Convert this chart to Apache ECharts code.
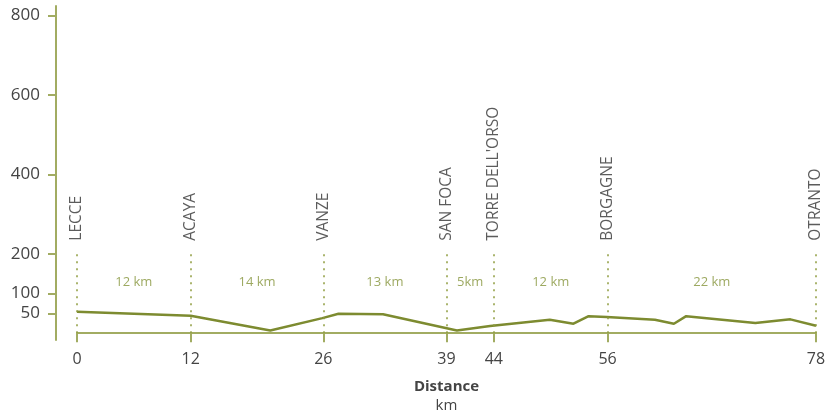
<!DOCTYPE html>
<html>
<head>
<meta charset="utf-8">
<style>html,body{margin:0;padding:0;background:#fff;}#c{width:831px;height:415px;}</style>
<script src="https://cdn.jsdelivr.net/npm/echarts@6/dist/echarts.min.js"></script>
</head>
<body>
<div id="c"></div>
<script>
// Elevation profile (km, metres)
var profileKm   = [0, 12, 20.4, 25.9, 27.6, 32.3, 40.1, 43.6, 49.9, 52.4, 54.0, 55.9, 61.0, 63.0, 64.3, 71.6, 75.3, 78];
var profileElev = [54, 44, 7, 38, 49, 48, 7, 18, 34, 24, 43, 41, 34, 24, 43, 26, 35, 19];
// Stations
var stationNames = ['LECCE', 'ACAYA', 'VANZE', 'SAN FOCA', "TORRE DELL'ORSO", 'BORGAGNE', 'OTRANTO'];
var stationKm    = [0, 12, 26, 39, 44, 56, 78];
// Segment distance labels
var segmentLabels = ['12 km', '14 km', '13 km', '5km', '12 km', '22 km'];
// Axis ticks
var yTicks = [50, 100, 200, 400, 600, 800];
var xTicks = [0, 12, 26, 39, 44, 56, 78];

var FONT = '"Open Sans", sans-serif';
var GREEN = '#7d8b30';
var AXIS = '#a2ac62';

var profileData = profileKm.map(function (k, i) { return [k, profileElev[i]]; });
var markerTop = 205;
var labelBase = 233;
var segLabelY = 129;

var stationLabelData = stationKm.map(function (k, i) { return { name: stationNames[i], value: [k, labelBase] }; });
var segData = segmentLabels.map(function (t, i) {
  return { name: t, value: [(stationKm[i] + stationKm[i + 1]) / 2, segLabelY] };
});
var markLines = stationKm.map(function (k) { return [{ coord: [k, 0] }, { coord: [k, markerTop] }]; });

var chart = echarts.init(document.getElementById('c'), null, { renderer: 'canvas' });
chart.setOption({
  animation: false,
  backgroundColor: '#fff',
  grid: { left: 77, right: 15, top: 6, bottom: 75, containLabel: false, outerBoundsMode: 'none' },
  xAxis: {
    type: 'value', min: 0, max: 78,
    axisLine: { show: true, onZero: true, lineStyle: { color: AXIS, width: 2 } },
    axisTick: { show: true, customValues: xTicks, length: 9, lineStyle: { color: AXIS, width: 2 } },
    axisLabel: { customValues: xTicks, margin: 11, color: '#444', fontFamily: FONT, fontSize: 16 },
    splitLine: { show: false },
    name: '{a|Distance}\n{b|km}',
    nameLocation: 'middle',
    nameGap: 37,
    nameTextStyle: {
      rich: {
        a: { fontFamily: FONT, fontWeight: 'bold', fontSize: 15, color: '#444', lineHeight: 19, align: 'center' },
        b: { fontFamily: FONT, fontSize: 15, color: '#444', lineHeight: 19, align: 'center' }
      }
    }
  },
  yAxis: {
    type: 'value', min: -17, max: 824, offset: 21, position: 'left',
    axisLine: { show: true, onZero: false, lineStyle: { color: AXIS, width: 2 } },
    axisTick: { show: true, customValues: yTicks, length: 8, lineStyle: { color: AXIS, width: 2 } },
    axisLabel: { customValues: yTicks, margin: 16, color: '#444', fontFamily: FONT, fontSize: 17 },
    splitLine: { show: false }
  },
  series: [
    {
      type: 'line', data: profileData, symbol: 'none', silent: true,
      lineStyle: { color: GREEN, width: 2.5 },
      markLine: {
        silent: true, symbol: ['none', 'none'], label: { show: false },
        lineStyle: { color: '#8e9c3e', width: 1.5, type: [2, 5] },
        data: markLines
      }
    },
    {
      type: 'scatter', data: stationLabelData, symbolSize: 0, silent: true,
      label: {
        show: true, formatter: '{b}', position: 'inside', rotate: 90,
        align: 'left', verticalAlign: 'middle',
        color: '#333', fontFamily: FONT, fontSize: 15.5
      }
    },
    {
      type: 'scatter', data: segData, symbolSize: 0, silent: true,
      label: {
        show: true, formatter: '{b}', position: 'inside',
        align: 'center', verticalAlign: 'middle',
        color: '#84943a', fontFamily: FONT, fontSize: 13
      }
    }
  ]
});
</script>
</body>
</html>
